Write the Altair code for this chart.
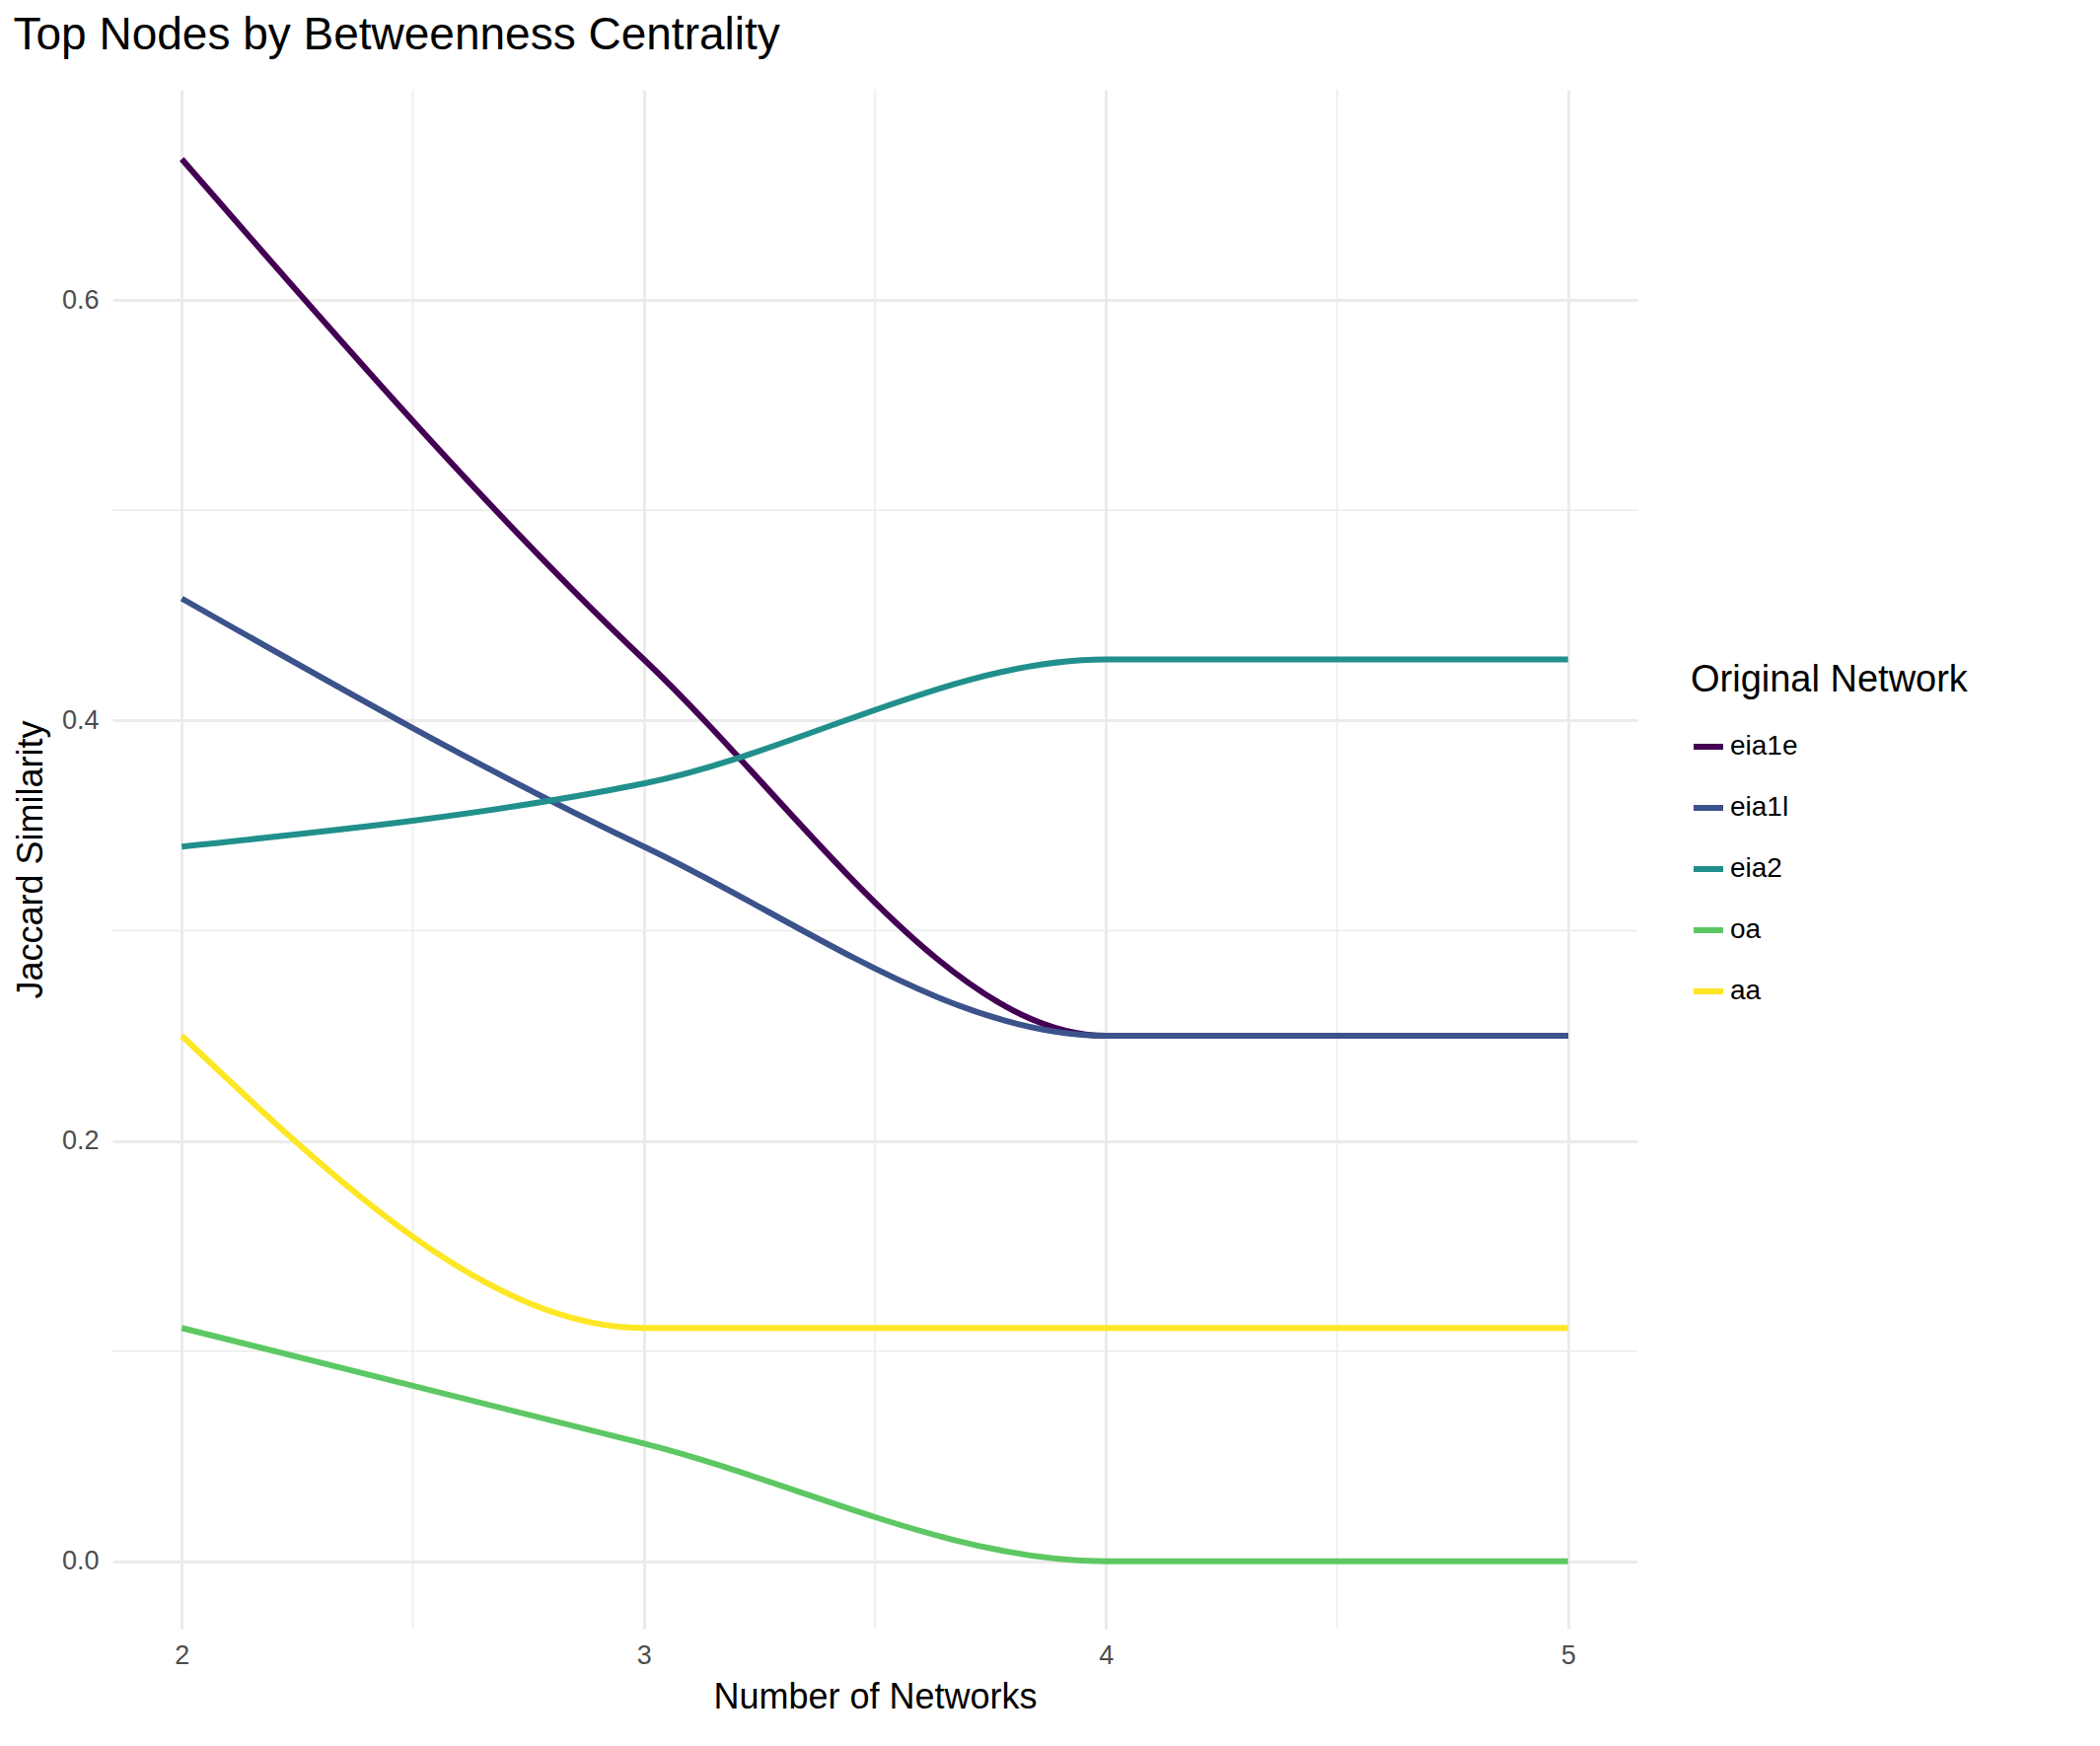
"""Jaccard similarity of top betweenness nodes vs number of networks."""

import altair as alt
import pandas as pd

networks = ["eia1e", "eia1l", "eia2", "oa", "aa"]
colors = ["#440154", "#3B528B", "#21908C", "#5DC863", "#FDE725"]
n_networks = [2, 3, 4, 5]
similarity = {
    "eia1e": [0.667, 0.429, 0.25, 0.25],
    "eia1l": [0.458, 0.34, 0.25, 0.25],
    "eia2": [0.34, 0.37, 0.429, 0.429],
    "oa": [0.111, 0.056, 0.0, 0.0],
    "aa": [0.25, 0.111, 0.111, 0.111],
}
minor_x = [2.5, 3.5, 4.5]
minor_y = [0.1, 0.3, 0.5]

rows = [
    {"network": net, "n": n, "value": v}
    for net in networks
    for n, v in zip(n_networks, similarity[net])
]
df = pd.DataFrame(rows)

grid_color = "#EBEBEB"
font = "Liberation Sans"

x_scale = alt.Scale(domain=[1.85, 5.15], nice=False, zero=False)
y_scale = alt.Scale(domain=[-0.032, 0.70], nice=False, zero=False)

minor_v = (
    alt.Chart(pd.DataFrame({"x": minor_x}))
    .mark_rule(color=grid_color, strokeWidth=1.5)
    .encode(x=alt.X("x:Q", scale=x_scale))
)
minor_h = (
    alt.Chart(pd.DataFrame({"y": minor_y}))
    .mark_rule(color=grid_color, strokeWidth=1.5)
    .encode(y=alt.Y("y:Q", scale=y_scale))
)

lines = (
    alt.Chart(df)
    .mark_line(strokeWidth=6, interpolate="monotone")
    .encode(
        x=alt.X(
            "n:Q",
            scale=x_scale,
            title="Number of Networks",
            axis=alt.Axis(values=n_networks, format="d"),
        ),
        y=alt.Y(
            "value:Q",
            scale=y_scale,
            title="Jaccard Similarity",
            axis=alt.Axis(values=[0.0, 0.2, 0.4, 0.6], format=".1f"),
        ),
        color=alt.Color(
            "network:N",
            scale=alt.Scale(domain=networks, range=colors),
            sort=networks,
            legend=alt.Legend(title="Original Network", symbolType="stroke",
                              symbolStrokeWidth=6, symbolSize=900),
        ),
    )
)

chart = (
    (minor_v + minor_h + lines)
    .properties(
        width=1546,
        height=1560,
        title=alt.TitleParams("Top Nodes by Betweenness Centrality", anchor="start",
                              fontSize=46, fontWeight="normal", font=font, offset=30),
    )
    .configure_view(strokeWidth=0)
    .configure_axis(
        grid=True, gridColor=grid_color, gridWidth=3, domain=False, ticks=False,
        labelFontSize=27, labelColor="#4D4D4D", labelFont=font, labelPadding=14,
        titleFontSize=36, titleFontWeight="normal", titleFont=font, titleColor="black",
        titlePadding=12,
    )
    .configure_legend(
        titleFontSize=38, titleFontWeight="normal", titleFont=font, titleLimit=600,
        labelFontSize=28, labelFont=font, labelLimit=400, orient="none",
        legendX=1600, legendY=580, rowPadding=30, titlePadding=30,
    )
)

chart.save("out.html", embed_options={"renderer": "svg", "actions": False})
